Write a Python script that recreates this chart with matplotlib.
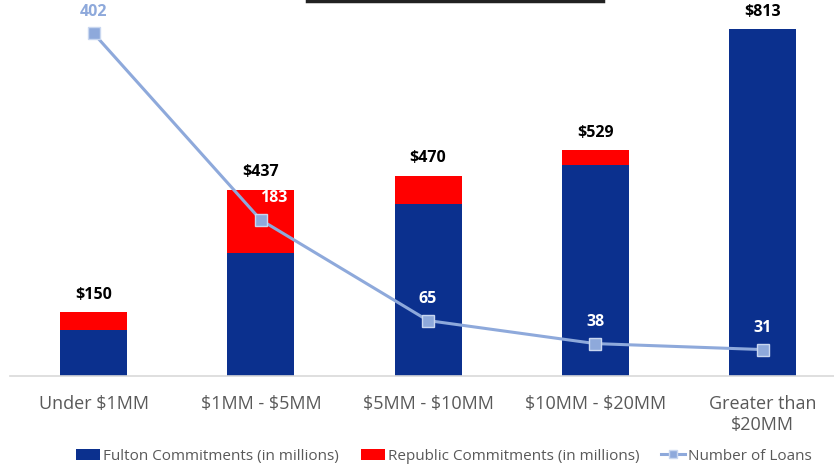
import matplotlib
matplotlib.use("Agg")
import matplotlib.pyplot as plt
from matplotlib.patches import Patch
from matplotlib.lines import Line2D
import numpy as np

plt.rcParams['font.family'] = ['Open Sans', 'DejaVu Sans']
plt.rcParams['text.parse_math'] = False

# Commitments by loan size bucket
categories = ["Under $1MM", "$1MM - $5MM", "$5MM - $10MM", "$10MM - $20MM", "Greater than\n$20MM"]
fulton = [108, 288, 403, 495, 813]
republic = [42, 149, 67, 34, 0]
num_loans = [402, 183, 65, 38, 31]

NAVY = "#0B308E"
RED = "#FF0000"
LINE = "#8EA9DB"
GRAY = "#595959"

W, H = 834, 469
fig = plt.figure(figsize=(W / 100, H / 100), dpi=100)
ax = fig.add_axes([9.9 / W, (H - 376) / H, 836.4 / W, 376 / H])
ax2 = ax.twinx()

x = np.arange(len(categories))
totals = [f + r for f, r in zip(fulton, republic)]

ax.bar(x, fulton, width=0.40, color=NAVY, zorder=2)
ax.bar(x, republic, width=0.40, bottom=fulton, color=RED, zorder=2)

for xi, t in zip(x, totals):
    ax.annotate(f"${t:,}", (xi, t), xytext=(0, 12.5), textcoords="offset points",
                ha="center", va="center", fontsize=11.5, fontweight="bold", color="black")

ax.set_xlim(-0.5, len(categories) - 0.5)
ax.set_ylim(0, 881.6)
ax2.set_ylim(0, 441)

ax2.plot(x, num_loans, color=LINE, lw=2.2, marker="s", markersize=9,
         markerfacecolor=LINE, markeredgecolor="#C9D7F0", markeredgewidth=1.0, zorder=3)

label_dx = [0, 9, 0, 0, 0]
for i, (xi, n) in enumerate(zip(x, num_loans)):
    col = LINE if i == 0 else "white"
    ax2.annotate(str(n), (xi, n), xytext=(label_dx[i], 15.5), textcoords="offset points",
                 ha="center", va="center", fontsize=11.5, fontweight="bold", color=col)

ax.set_xticks(x)
ax.set_xticklabels(categories, fontsize=13, color=GRAY, linespacing=1.2)
ax.tick_params(axis="x", length=0, pad=14)
ax.set_yticks([])
ax2.set_yticks([])
for a in (ax, ax2):
    for s in ("top", "right", "left"):
        a.spines[s].set_visible(False)
ax2.spines["bottom"].set_visible(False)
ax.spines["bottom"].set_color("#D9D9D9")
ax.spines["bottom"].set_linewidth(1.2)

handles = [
    Patch(facecolor=NAVY, label="Fulton Commitments (in millions)"),
    Patch(facecolor=RED, label="Republic Commitments (in millions)"),
    Line2D([0], [0], color=LINE, lw=2.2, marker="s", markersize=6,
           markerfacecolor=LINE, markeredgecolor="#C9D7F0", label="Number of Loans"),
]
leg = fig.legend(handles=handles, loc="center", bbox_to_anchor=(444 / W, (H - 456) / H),
                 ncol=3, frameon=False, fontsize=11, handlelength=1.6, handleheight=0.7,
                 handletextpad=0.2, columnspacing=1.4)
for t in leg.get_texts():
    t.set_color(GRAY)

# title underline, partially visible at the top edge
fig.add_artist(Line2D([307 / W, 603 / W], [(H - 1.5) / H, (H - 1.5) / H],
                      color="#222222", lw=2.5, transform=fig.transFigure))

fig.savefig("out.png", dpi=100)
